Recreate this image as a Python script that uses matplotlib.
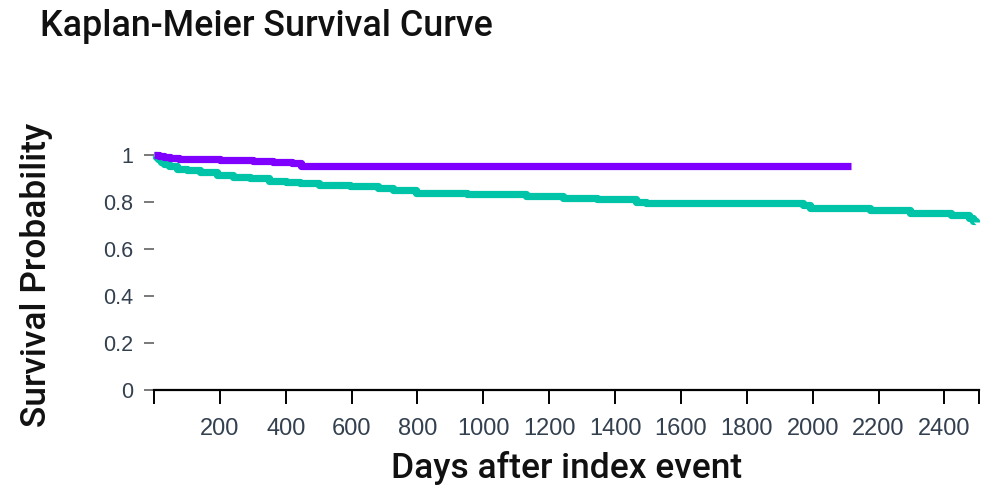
import matplotlib
matplotlib.use("Agg")
import matplotlib.pyplot as plt

# Group A (purple)
days_a = [0, 15, 30, 50, 75, 200, 300, 360, 420, 445, 2117]
surv_a = [1.0, 0.995, 0.99, 0.985, 0.98, 0.978, 0.975, 0.97, 0.965, 0.952, 0.952]

# Group B (teal)
days_b = [0, 5, 12, 20, 30, 45, 70, 100, 140, 190, 240, 290, 350, 400, 443, 500,
          595, 680, 726, 797, 949, 1131, 1242, 1344, 1465, 1495, 1971, 1991,
          2173, 2294, 2420, 2476, 2488, 2496]
surv_b = [1.0, 0.99, 0.98, 0.97, 0.96, 0.95, 0.94, 0.935, 0.925, 0.915, 0.905, 0.90,
          0.89, 0.885, 0.878, 0.872, 0.865, 0.86, 0.851, 0.838, 0.834, 0.824, 0.818,
          0.81, 0.80, 0.794, 0.785, 0.773, 0.766, 0.753, 0.743, 0.73, 0.72, 0.716]

x_ticks = [0, 200, 400, 600, 800, 1000, 1200, 1400, 1600, 1800, 2000, 2200, 2400, 2505]
x_tick_labels = ["", "200", "400", "600", "800", "1000", "1200", "1400", "1600",
                 "1800", "2000", "2200", "2400", ""]
y_ticks = [0, 0.2, 0.4, 0.6, 0.8, 1.0]
y_tick_labels = ["0", "0.2", "0.4", "0.6", "0.8", "1"]

W, H = 1008, 504
fig = plt.figure(figsize=(W / 100, H / 100), dpi=100)
left, right, bottom_px, top_px = 154, 979, 390, 150
ax = fig.add_axes([left / W, 1 - bottom_px / H, (right - left) / W, (bottom_px - top_px) / H])

ax.step(days_b, surv_b, where="post", color="#00c4a7", lw=5.2, solid_capstyle="butt",
        clip_on=False, zorder=3)
ax.step(days_a, surv_a, where="post", color="#7f00ff", lw=5.2, solid_capstyle="butt",
        clip_on=False, zorder=4)

ax.set_xlim(0, 2505)
ax.set_ylim(0, 1.02)

for s in ["top", "right", "left"]:
    ax.spines[s].set_visible(False)
ax.spines["bottom"].set_color("black")
ax.spines["bottom"].set_linewidth(1.6)

ax.set_xticks(x_ticks)
ax.set_xticklabels(x_tick_labels, family="Liberation Sans", size=17, color="#33404f")
ax.set_yticks(y_ticks)
ax.set_yticklabels(y_tick_labels, family="Liberation Sans", size=15.5, color="#33404f")
ax.tick_params(axis="x", direction="out", length=10, width=1.4, color="black", pad=10)
ax.tick_params(axis="y", direction="out", length=7, width=1.1, color="#555555", pad=8)

label_font = dict(family="Roboto", size=25.5, weight="medium", color="#111111")
ax.set_xlabel("Days after index event", labelpad=8, **label_font)
ax.set_ylabel("Survival Probability", **label_font)
ax.yaxis.set_label_coords((37 - left) / (right - left), (390 - 275) / (bottom_px - top_px))
ax.yaxis.label.set_va("center")

fig.text(40 / W, 1 - 36 / H, "Kaplan-Meier Survival Curve", family="Roboto", size=25.8,
         weight="medium", color="#111111", ha="left", va="baseline")

fig.savefig("out.png", dpi=100)
